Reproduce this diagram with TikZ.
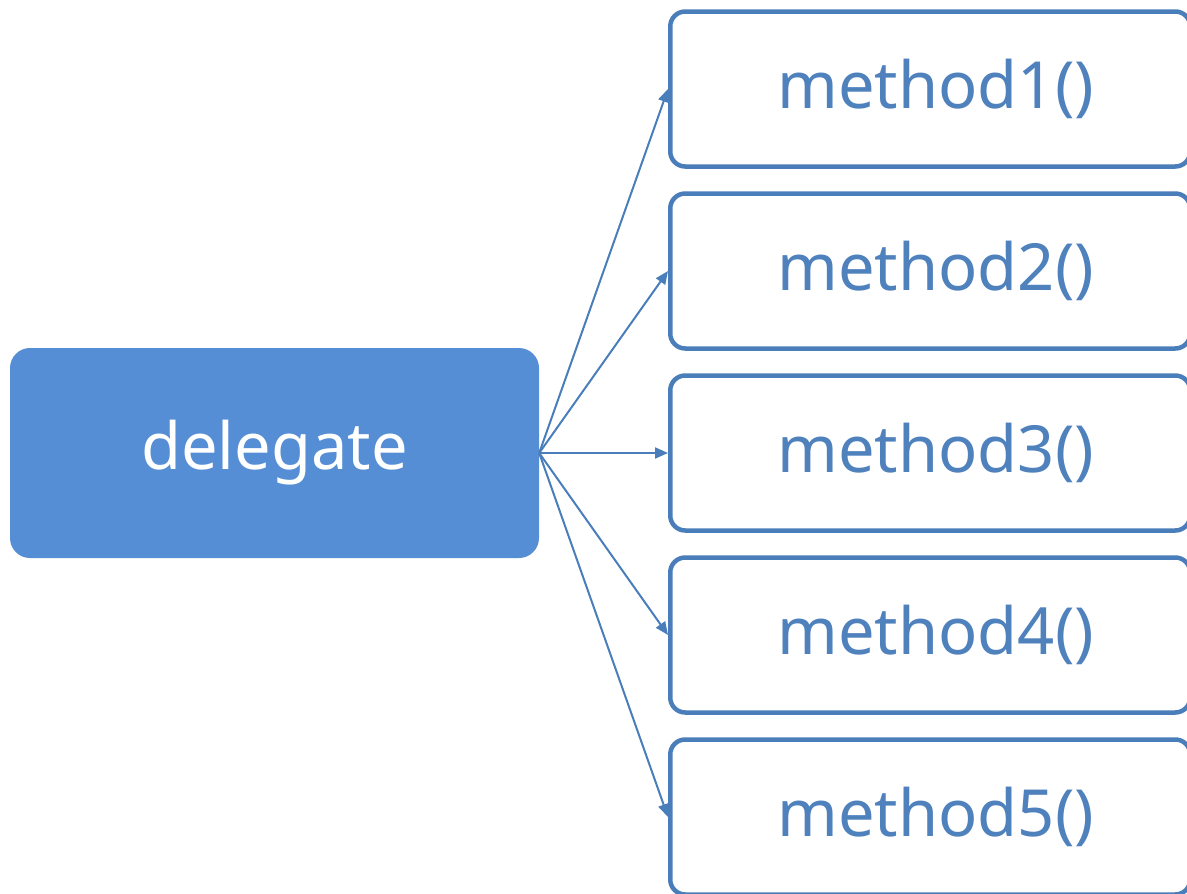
\documentclass[tikz,border=0pt]{standalone}
\usepackage{fontspec}
\setmainfont{Noto Sans}
\usetikzlibrary{arrows.meta}
\definecolor{delegfill}{HTML}{558ED5}
\definecolor{boxline}{HTML}{4A7EBB}
\definecolor{boxtext}{HTML}{4F81BD}
\begin{document}
\begin{tikzpicture}[x=1pt,y=-1pt,
  delegbox/.style={fill=delegfill, rounded corners=20pt, minimum width=529pt,
    minimum height=210pt, inner sep=0pt, text=white, font=\fontsize{65}{70}\selectfont},
  methodbox/.style={draw=boxline, line width=4.5pt, rounded corners=15pt, fill=white,
    minimum width=520pt, minimum height=155pt, inner sep=0pt, text=boxtext,
    font=\fontsize{65}{70}\selectfont, anchor=west},
  link/.style={draw=boxline, line width=2pt, -{Triangle[length=13pt,width=11pt]}}]
\useasboundingbox (0,0) rectangle (1187,894);
\clip (0,0) rectangle (1187,894);
\node[delegbox] (d) at (274.5,453) {\raisebox{-3pt}{delegate}};
\foreach \i in {1,...,5}{
  \node[methodbox] (m\i) at (668,{89+182*(\i-1)}) {\hspace*{11pt}method\i()};
}
\foreach \i in {1,...,5}{
  \draw[link] (d.east) -- (m\i.west);
}
\end{tikzpicture}
\end{document}
